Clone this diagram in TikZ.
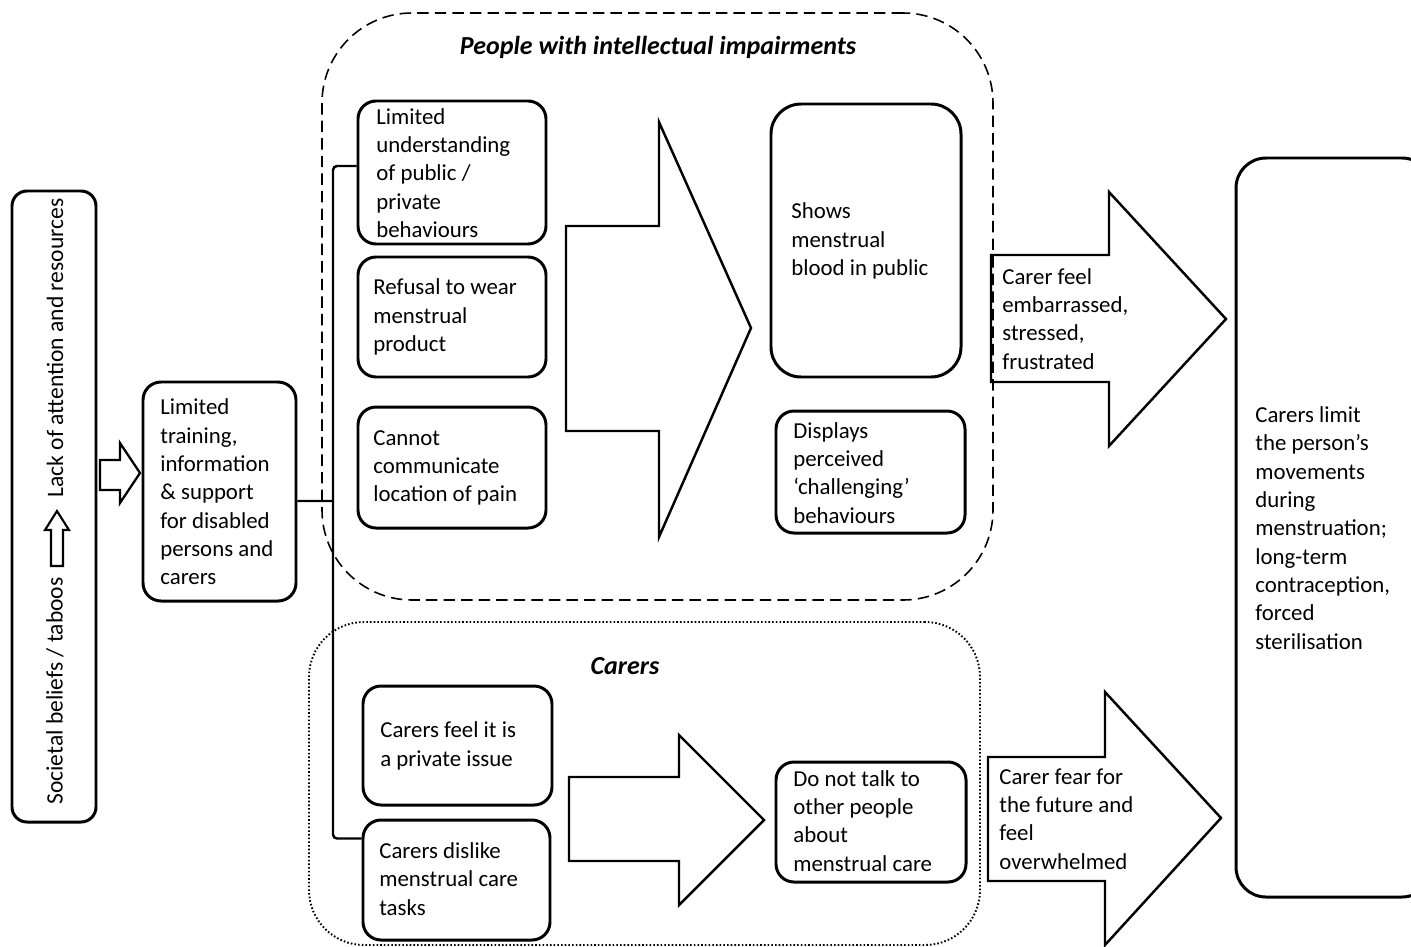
\documentclass[tikz,border=0pt]{standalone}
\usepackage{fontspec}
\setmainfont{Carlito}
\usetikzlibrary{fit,calc}
\begin{document}
\begin{tikzpicture}[x=0.02cm,y=-0.02cm,
  bx/.style={draw, line width=1.7pt, rounded corners=0.36cm, inner sep=0pt},
  txt/.style={anchor=west, align=left, inner sep=0pt, font=\fontsize{13pt}{16.1pt}\selectfont},
  blk/.style={draw, line width=1.4pt, line join=miter},
  conn/.style={draw, line width=1.4pt},
  ttl/.style={inner sep=0pt, font=\fontsize{14.8pt}{17pt}\selectfont\bfseries\itshape},
  grp1/.style={draw, line width=0.9pt, dash pattern=on 6.5pt off 3.5pt, rounded corners=1.8cm, inner sep=0pt},
  grp2/.style={draw, line width=1.1pt, dash pattern=on 0.9pt off 1.2pt, rounded corners=1.1cm, inner sep=0pt}]
\useasboundingbox (0,0) rectangle (1411,947);

% left column
\node[bx, rounded corners=0.3cm, fit={(12,191)(96,822)}] (soc) {};
\node[txt, anchor=center, rotate=90, font=\fontsize{13.4pt}{16pt}\selectfont] (soc1) at (55,691) {Societal beliefs / taboos};
\node[txt, anchor=center, rotate=90, font=\fontsize{13.4pt}{16pt}\selectfont] (soc2) at (55,348) {Lack of attention and resources};
\draw[blk, line width=1.2pt] (51,566) -- (51,530) -- (45,530) -- (57,511) -- (69,530) -- (63,530) -- (63,566) -- cycle;
\draw[blk, line width=1.3pt] (100,460) -- (120,460) -- (120,443) -- (140,473) -- (120,503) -- (120,490) -- (100,490) -- cycle;

\node[bx, fit={(143,382)(296,601)}] (L) {};
\node[txt] (Lt) at (160,492) {Limited\\training,\\information\\\& support\\for disabled\\persons and\\carers};

% group: people with intellectual impairments
\node[grp1, fit={(322,13)(993,600)}] (pii) {};
\node[ttl] (piit) at (658,47) {People with intellectual impairments};

\node[bx, fit={(358,101)(546,244)}] (A) {};
\node[txt] (At) at (376,173) {Limited\\understanding\\of public /\\private\\behaviours};
\node[bx, fit={(358,257)(546,377)}] (B) {};
\node[txt] (Bt) at (373,317) {Refusal to wear\\menstrual\\product};
\node[bx, fit={(358,407)(546,528)}] (C) {};
\node[txt] (Ct) at (373,468) {Cannot\\communicate\\location of pain};

\draw[blk] (566,226) -- (659,226) -- (659,122) -- (751,328) -- (659,537) -- (659,431) -- (566,431) -- cycle;

\node[bx, rounded corners=0.6cm, fit={(771,104)(961,377)}] (D) {};
\node[txt] (Dt) at (791,241) {Shows\\menstrual\\blood in public};
\node[bx, fit={(776,411)(965,533)}] (E) {};
\node[txt] (Et) at (793,473) {Displays\\perceived\\‘challenging’\\behaviours};

\draw[blk] (991,255) -- (1109,255) -- (1109,192) -- (1226,319) -- (1109,446) -- (1109,382) -- (991,382) -- cycle;
\node[txt] (ar2) at (1002,319) {Carer feel\\embarrassed,\\stressed,\\frustrated};

% right box
\node[bx, rounded corners=0.6cm, fit={(1236,158)(1432,897)}] (R) {};
\node[txt] (Rt) at (1255,528) {Carers limit\\the person’s\\movements\\during\\menstruation;\\long-term\\contraception,\\forced\\sterilisation};

% group: carers
\node[grp2, fit={(309,622)(980,945)}] (car) {};
\node[ttl] (cart) at (625,666) {Carers};

\node[bx, fit={(363,686)(552,805)}] (F) {};
\node[txt] (Ft) at (380,746) {Carers feel it is\\a private issue};
\node[bx, fit={(363,820)(550,940)}] (G) {};
\node[txt] (Gt) at (379,879) {Carers dislike\\menstrual care\\tasks};

\draw[blk] (569,777) -- (679,777) -- (679,735) -- (764,820) -- (679,905) -- (679,861) -- (569,861) -- cycle;

\node[bx, fit={(776,762)(966,882)}] (H) {};
\node[txt] (Ht) at (793,821) {Do not talk to\\other people\\about\\menstrual care};

\draw[blk] (988,757) -- (1105,757) -- (1105,692) -- (1221,818) -- (1105,945) -- (1105,881) -- (988,881) -- cycle;
\node[txt] (ar4) at (999,819) {Carer fear for\\the future and\\feel\\overwhelmed};

% bracket connector
\coordinate (bm) at (333,501);
\draw[conn, rounded corners=0.08cm] ([yshift=0.13cm]A.west) -| (bm) |- ($(G.north west)+(0,20)$);
\draw[conn] ([yshift=-0.19cm]L.east) -- (bm);
\end{tikzpicture}
\end{document}
